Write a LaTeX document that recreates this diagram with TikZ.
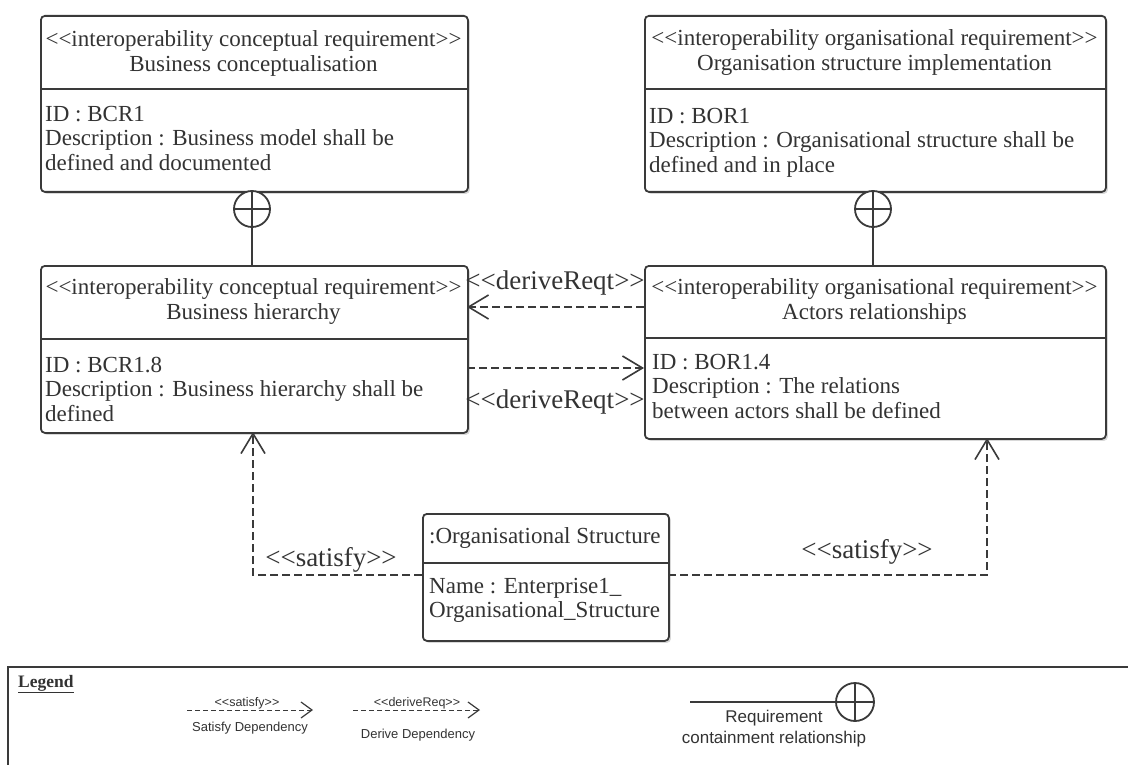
\documentclass[tikz,border=0pt]{standalone}
\usepackage{fontspec}
\setmainfont{Liberation Serif}
\newfontfamily\legfont{Liberation Sans}
\usetikzlibrary{arrows.meta,shadows}
\definecolor{ink}{HTML}{333333}
\definecolor{edge}{HTML}{3A3A3A}
\tikzset{
  reqbox/.style={draw=edge,line width=1.8pt,rounded corners=4pt,fill=white,
    anchor=north west,inner sep=0pt,
    drop shadow={shadow xshift=2pt,shadow yshift=-2pt,fill=black!25,opacity=0.6}},
  divline/.style={draw=edge,line width=1.8pt},
  headtxt/.style={align=center,font=\fontsize{23}{25}\selectfont,text=ink,inner sep=0pt},
  bodytxt/.style={align=left,font=\fontsize{23}{24.5}\selectfont,text=ink,inner sep=0pt,anchor=north west},
  deplabel/.style={font=\fontsize{27}{29}\selectfont,text=ink,inner sep=0pt},
  dep/.style={draw=edge,line width=1.6pt,dash pattern=on 8pt off 4pt,
    -{Straight Barb[length=20pt,width=24pt,line width=1.6pt]}},
  contain/.style={draw=edge,line width=1.8pt},
  cplus/.style={circle,draw=edge,line width=1.8pt,minimum size=36pt,inner sep=0pt,fill=white,
    path picture={\draw[edge,line width=1.8pt]
      (path picture bounding box.north) -- (path picture bounding box.south)
      (path picture bounding box.west) -- (path picture bounding box.east);}},
  legtxt/.style={font=\legfont\fontsize{13}{16}\selectfont,text=ink,inner sep=0pt,align=center},
  legbig/.style={font=\legfont\fontsize{17}{21}\selectfont,text=ink,inner sep=0pt,align=center},
  legsmall/.style={font=\legfont\fontsize{12.5}{14}\selectfont,text=ink,inner sep=0pt},
  legdep/.style={draw=edge,line width=1pt,dash pattern=on 5pt off 3pt,
    -{Straight Barb[length=11pt,width=16pt,line width=1.2pt]}}
}
\begin{document}
\begin{tikzpicture}[x=1pt,y=-1pt]
\useasboundingbox (0,0) rectangle (1128,765);
\fill[white] (0,0) rectangle (1128,765);

% ---------- Box BCR1 ----------
\node[reqbox,minimum width=427pt,minimum height=176pt] (bcr1) at (40,15) {};
\draw[divline] (40,89) -- (467,89);
\node[headtxt] (bcr1h) at (253.5,53) {<{}<interoperability conceptual requirement>{}>\\Business conceptualisation};
\node[bodytxt] (bcr1b) at (45,106) {ID : BCR1\\Description : Business model shall be\\defined and documented};

% ---------- Box BOR1 ----------
\node[reqbox,minimum width=461pt,minimum height=176pt] (bor1) at (644,15) {};
\draw[divline] (644,89) -- (1105,89);
\node[headtxt] (bor1h) at (874.5,53) {<{}<interoperability organisational requirement>{}>\\Organisation structure implementation};
\node[bodytxt] (bor1b) at (649,108) {ID : BOR1\\Description : Organisational structure shall be\\defined and in place};

% ---------- Box BCR1.8 ----------
\node[reqbox,minimum width=427pt,minimum height=167pt] (bcr18) at (40,265) {};
\draw[divline] (40,339) -- (467,339);
\node[headtxt] (bcr18h) at (253.5,302) {<{}<interoperability conceptual requirement>{}>\\Business hierarchy};
\node[bodytxt] (bcr18b) at (45,357) {ID : BCR1.8\\Description : Business hierarchy shall be\\defined};

% ---------- Box BOR1.4 ----------
\node[reqbox,minimum width=461pt,minimum height=173pt] (bor14) at (644,265) {};
\draw[divline] (644,338) -- (1105,338);
\node[headtxt] (bor14h) at (874.5,301) {<{}<interoperability organisational requirement>{}>\\Actors relationships};
\node[bodytxt] (bor14b) at (652,354) {ID : BOR1.4\\Description : The relations\\between actors shall be defined};

% ---------- Organisational Structure ----------
\node[reqbox,minimum width=246pt,minimum height=127pt] (org) at (422,513) {};
\draw[divline] (422,563) -- (668,563);
\node[headtxt,anchor=west] (orgh) at (429,538) {:Organisational Structure};
\node[bodytxt] (orgb) at (429,578) {Name : Enterprise1\_\\Organisational\_Structure};

% ---------- Containment ----------
\node[cplus] (c1) at (252,209) {};
\node[cplus] (c2) at (873,209) {};
\draw[contain] (c1.south) -- (c1.south |- bcr18.north);
\draw[contain] (c2.south) -- (c2.south |- bor14.north);

% ---------- Derive ----------
\coordinate (d1s) at (644,307);
\coordinate (d1e) at (467,307);
\coordinate (d2s) at (467,368);
\coordinate (d2e) at (644,368);
\draw[dep] (d1s) -- (d1e);
\draw[dep] (d2s) -- (d2e);
\node[deplabel] (dl1) at (555,283) {<{}<deriveReqt>{}>};
\node[deplabel] (dl2) at (555,402) {<{}<deriveReqt>{}>};

% ---------- Satisfy ----------
\coordinate (s1a) at (422,575);
\coordinate (s1b) at (253,575);
\coordinate (s1c) at (253,432);
\draw[dep] (s1a) -- (s1b) -- (s1c);
\coordinate (s2a) at (668,575);
\coordinate (s2b) at (987,575);
\coordinate (s2c) at (987,438);
\draw[dep] (s2a) -- (s2b) -- (s2c);
\node[deplabel] (sl1) at (331,560) {<{}<satisfy>{}>};
\node[deplabel] (sl2) at (867,552) {<{}<satisfy>{}>};

% ---------- Legend ----------
\draw[edge,line width=1.8pt] (8,768) -- (8,667) -- (1130,667);
\node[anchor=west,inner sep=0pt,font=\bfseries\fontsize{17.5}{20}\selectfont,text=ink] (legt) at (18,684) {\underline{Legend}};

\coordinate (ls1) at (187,710);
\coordinate (ls2) at (313,710);
\draw[legdep] (ls1) -- (ls2);
\node[legsmall] (lsl) at (247,703) {<{}<satisfy>{}>};
\node[legtxt] (lst) at (250,728) {Satisfy Dependency};

\coordinate (ld1) at (353,710);
\coordinate (ld2) at (480,710);
\draw[legdep] (ld1) -- (ld2);
\node[legsmall] (ldl) at (417,703) {<{}<deriveReq>{}>};
\node[legtxt] (ldt) at (418,735) {Derive Dependency};

\node[cplus,minimum size=38pt] (lc) at (855,702) {};
\coordinate (lc1) at (690,702);
\draw[edge,line width=1.8pt] (lc1) -- (lc.west);
\node[legbig] (lct) at (774,729) {Requirement\\containment relationship};
\end{tikzpicture}
\end{document}
